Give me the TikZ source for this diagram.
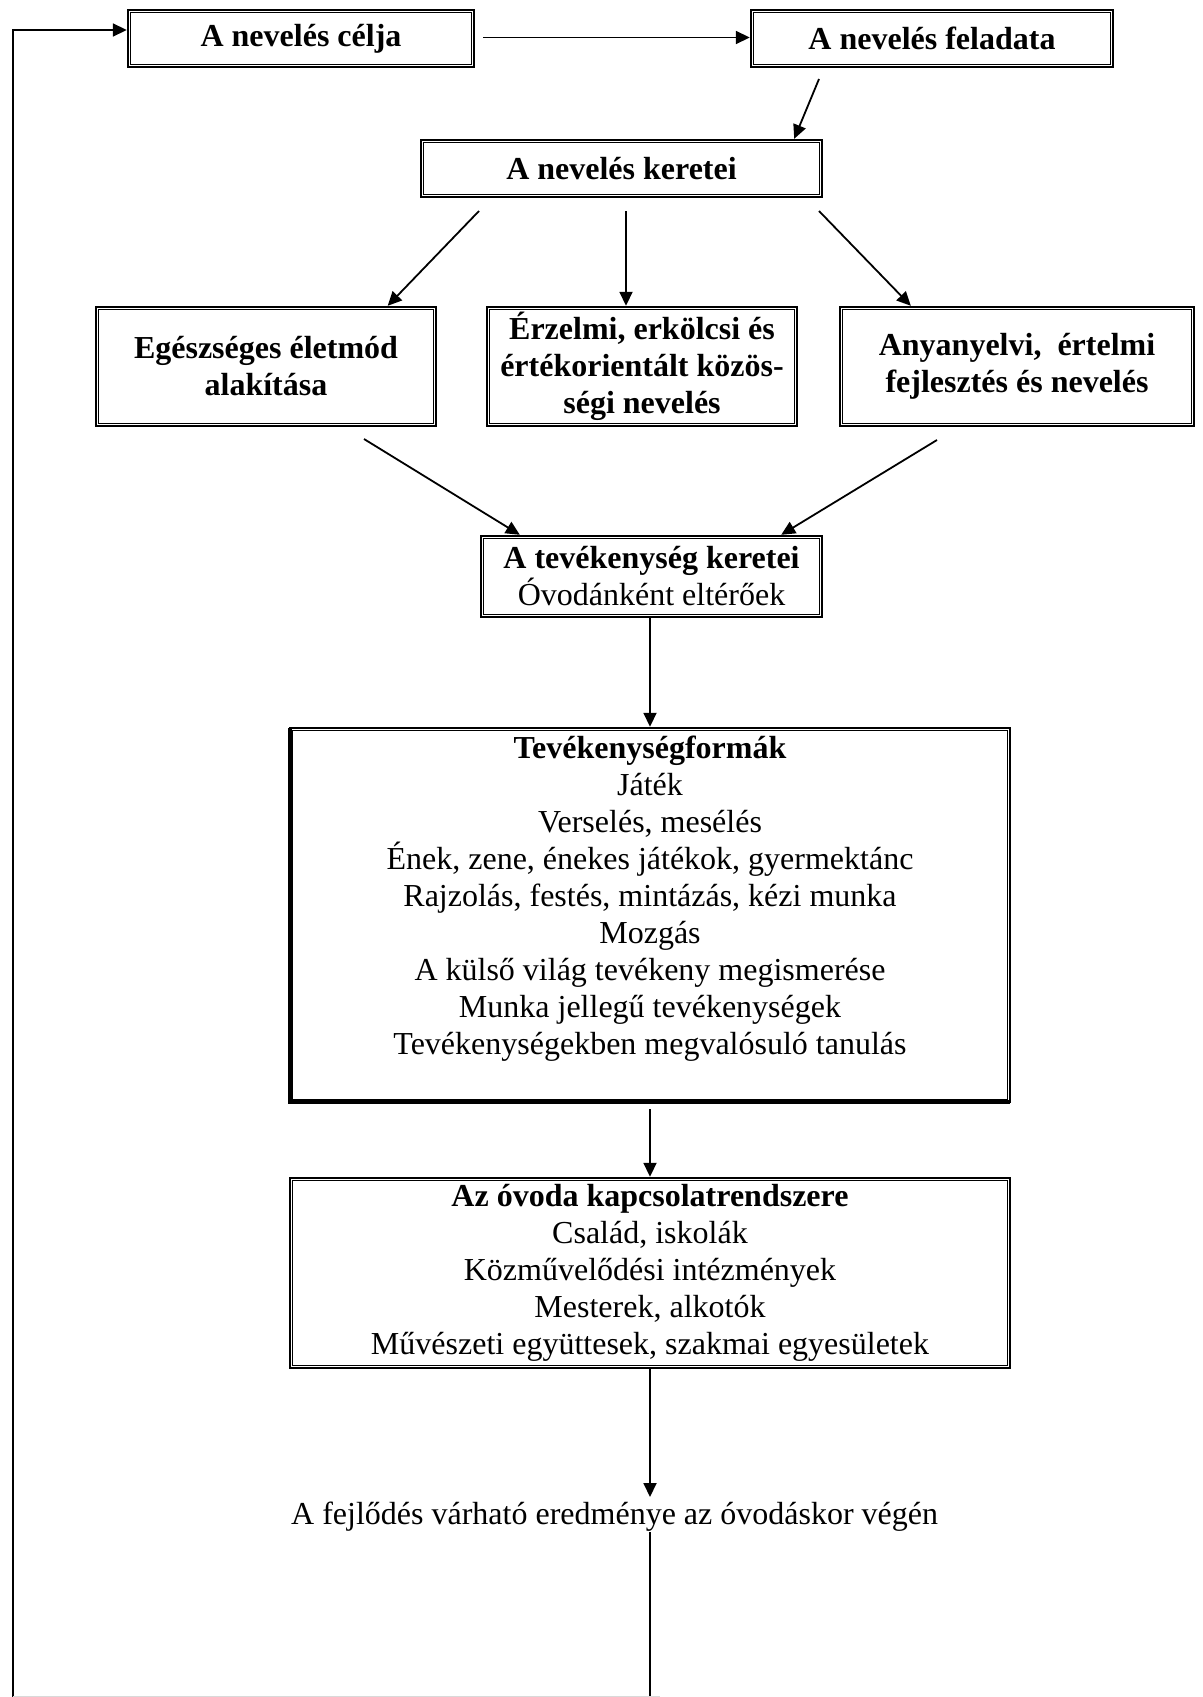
\documentclass[tikz,border=0pt]{standalone}
\usepackage{fontspec}
\setmainfont{Liberation Serif}
\usetikzlibrary{arrows.meta}
\begin{document}
\begin{tikzpicture}[x=1pt,y=-1pt,
  every node/.style={font=\fontsize{32}{37}\selectfont, align=center, inner sep=0pt},
  dbox/.style={draw, line width=2.4pt, font=\fontsize{32}{37}\selectfont\bfseries},
  conn/.style={line width=1.8pt, -{Triangle[length=14pt,width=13pt]}},
  plainline/.style={line width=1.8pt},
]
\useasboundingbox (0,0) rectangle (1202,1697);

% boxes
\node[dbox, minimum width=346pt, minimum height=57pt] (celja) at (301,38.5) {A nevelés célja};
\node[dbox, minimum width=362pt, minimum height=57pt] (feladata) at (932,38.5) {A nevelés feladata};
\node[dbox, minimum width=401pt, minimum height=57pt] (keretei) at (621.5,168.5) {A nevelés keretei};
\node[dbox, minimum width=340pt, minimum height=119pt] (egesz) at (266,366.5) {Egészséges életmód\\alakítása};
\node[dbox, minimum width=310pt, minimum height=119pt] (erz) at (642,366.5) {Érzelmi, erkölcsi és\\értékorientált közös-\\ségi nevelés};
\node[dbox, minimum width=354pt, minimum height=119pt] (anya) at (1017,366.5) {Anyanyelvi,\ \ értelmi\\fejlesztés és nevelés};
\node[dbox, minimum width=341pt, minimum height=81pt] (tev) at (651.5,576.5) {A tevékenység keretei\\\mdseries Óvodánként eltérőek};
\node[dbox, minimum width=720pt, minimum height=374pt] (formak) at (650,915) {};
\node (formaktext) at (650,899) {\textbf{Tevékenységformák}\\Játék\\Verselés, mesélés\\Ének, zene, énekes játékok, gyermektánc\\Rajzolás, festés, mintázás, kézi munka\\Mozgás\\A külső világ tevékeny megismerése\\Munka jellegű tevékenységek\\Tevékenységekben megvalósuló tanulás};
\node[dbox, minimum width=720pt, minimum height=190pt] (kapcs) at (650,1273) {Az óvoda kapcsolatrendszere\\\mdseries Család, iskolák\\\mdseries Közművelődési intézmények\\\mdseries Mesterek, alkotók\\\mdseries Művészeti együttesek, szakmai egyesületek};
\node[anchor=west] (eredmeny) at (291,1517) {A fejlődés várható eredménye az óvodáskor végén};

% inner lines of the double borders
\foreach \n in {celja,feladata,keretei,egesz,erz,anya,tev,formak,kapcs}
  \draw[line width=1pt] ([xshift=3.6pt,yshift=-3.6pt]\n.north west) rectangle ([xshift=-3.6pt,yshift=3.6pt]\n.south east);
% thick left and bottom side of the activity box
\draw[line width=4.6pt] ([xshift=1.1pt,yshift=-1pt]formak.north west) -- ([xshift=1.1pt,yshift=1.1pt]formak.south west) -- ([xshift=-1pt,yshift=1.1pt]formak.south east);

% free ends
\coordinate (botL) at (13,1697);
\coordinate (k1) at (479,211);
\coordinate (k2) at (626,211);
\coordinate (k3) at (819,211);
\coordinate (f1) at (819,79);
\coordinate (e1) at (364,439);
\coordinate (a1) at (937,440);
\coordinate (resEnd) at (650,1497);
\coordinate (resStart) at (650,1532);
\coordinate (botM) at (650,1697);

% connectors
\draw[conn] (botL) |- ([yshift=8.5pt]celja.west);
\draw[conn] ([xshift=8pt,yshift=1pt]celja.east) -- ([yshift=1pt]feladata.west);
\draw[conn] (f1) -- ([xshift=-29pt]keretei.north east);
\draw[conn] (k1) -- ([xshift=-49.5pt]egesz.north east);
\draw[conn] (k2) -- ([xshift=-16pt]erz.north);
\draw[conn] (k3) -- ([xshift=72pt]anya.north west);
\draw[conn] (e1) -- ([xshift=40pt]tev.north west);
\draw[conn] (a1) -- ([xshift=-42pt]tev.north east);
\draw[conn] ([xshift=-1.5pt]tev.south) -- (formak.north);
\draw[conn] ([yshift=-6pt]formak.south) -- (kapcs.north);
\draw[conn] (kapcs.south) -- (resEnd);
\draw[plainline] (resStart) -- (botM);
\draw[black!15, line width=1.5pt] (botL) -- ([xshift=10pt]botM);
\end{tikzpicture}
\end{document}
